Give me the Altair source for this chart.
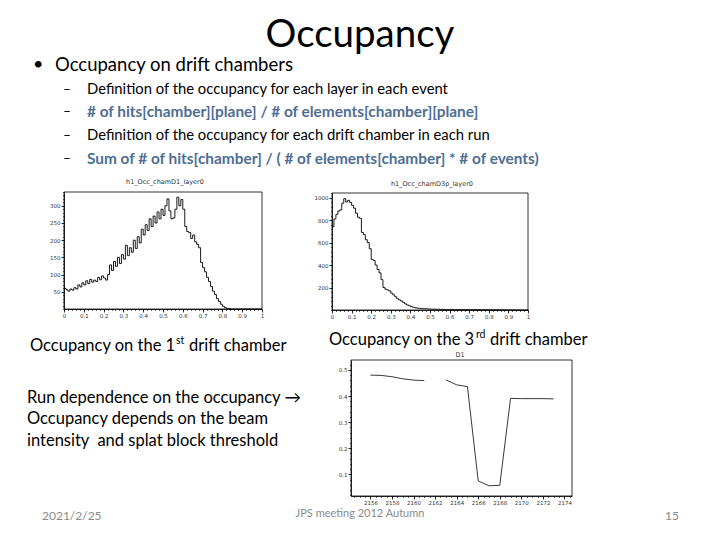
import altair as alt
import pandas as pd

# ---------------- data ----------------
# histogram 1 : h1_Occ_chamD1_layer0 (100 bins on [0,1])
h1_counts = [60, 56, 52, 58, 55, 62, 58, 70, 64, 76,
             70, 82, 74, 86, 78, 84, 80, 92, 85, 96,
             90, 84, 100, 128, 112, 138, 124, 150, 132, 158,
             145, 185, 155, 178, 165, 200, 176, 210, 192, 232,
             215, 245, 228, 262, 240, 270, 250, 282, 262, 290,
             272, 300, 320, 285, 262, 265, 290, 325, 300, 318,
             290, 240, 225, 222, 205, 215, 195, 188, 178, 135,
             120, 108, 92, 80, 65, 52, 42, 30, 22, 14,
             8, 4, 2, 1, 0, 0, 0, 0, 0, 0,
             0, 0, 0, 0, 0, 0, 0, 0, 0, 0]
# histogram 2 : h1_Occ_chamD3p_layer0 (100 bins on [0,1])
h2_counts = [740, 810, 850, 880, 890, 950, 990, 960, 975, 955,
             930, 905, 860, 825, 815, 690, 670, 625, 600, 545,
             450, 440, 400, 360, 330, 270, 200, 185, 178, 170,
             150, 135, 118, 100, 90, 80, 68, 55, 45, 38,
             30, 25, 20, 17, 15, 14, 12, 11, 10, 9,
             8, 7, 8, 6, 7, 5, 6, 5, 4, 5,
             4, 5, 3, 4, 4, 3, 4, 3, 3, 4,
             3, 2, 3, 3, 2, 3, 2, 2, 3, 2,
             2, 2, 1, 2, 2, 1, 2, 1, 1, 1,
             1, 0, 1, 0, 0, 0, 0, 0, 0, 0]
# run dependence (D1)
runs_a = [2156, 2157, 2158, 2159, 2160, 2161]
occ_a = [0.480, 0.479, 0.474, 0.466, 0.461, 0.459]
runs_b = [2163, 2164, 2165, 2166, 2167, 2168, 2169, 2170, 2171, 2172, 2173]
occ_b = [0.462, 0.443, 0.436, 0.075, 0.056, 0.058, 0.391, 0.390, 0.390, 0.390, 0.389]

# tick labels
occ_ticks = [0, 0.1, 0.2, 0.3, 0.4, 0.5, 0.6, 0.7, 0.8, 0.9, 1]
h1_yticks = [50, 100, 150, 200, 250, 300]
h2_yticks = [200, 400, 600, 800, 1000]
run_ticks = [2156, 2158, 2160, 2162, 2164, 2166, 2168, 2170, 2172, 2174]
d1_yticks = [0.1, 0.2, 0.3, 0.4, 0.5]

# slide texts
title_text = "Occupancy"
bullet_text = "Occupancy on drift chambers"
sub_texts = ["Definition of the occupancy for each layer in each event",
             "# of hits[chamber][plane] / # of elements[chamber][plane]",
             "Definition of the occupancy for each drift chamber in each run",
             "Sum of # of hits[chamber] / ( # of elements[chamber] * # of events)"]
cap1 = ["Occupancy on the 1", "st", "drift chamber"]
cap3 = ["Occupancy on the 3", "rd", "drift chamber"]
run_texts = ["Run dependence on the occupancy \u2192",
             "Occupancy depends on the beam",
             "intensity\u00a0 and splat block threshold"]
footer = ["2021/2/25", "JPS meeting 2012 Autumn", "15"]
plot_titles = ["h1_Occ_chamD1_layer0", "h1_Occ_chamD3p_layer0", "D1"]

# ---------------- helpers ----------------
FONT = "Lato"
H = 524  # chart height (page minus margins)


def txt(s, X, Y, size, color="black", align="left", baseline="middle",
        font=FONT, weight="normal"):
    return alt.Chart(pd.DataFrame({"t": [s]})).mark_text(
        align=align, baseline=baseline, fontSize=size, font=font, color=color,
        fontWeight=weight
    ).encode(x=alt.value(X - 8), y=alt.value(Y - 8), text="t:N")


def major_axis(orient, offset, values, fmt):
    return alt.Axis(orient=orient, offset=offset, values=values, format=fmt,
                    grid=False, title=None, tickSize=3, tickWidth=0.8,
                    tickColor="black", domainColor="black", domainWidth=0.8,
                    labelFontSize=5.5, labelFont="DejaVu Sans", labelColor="#333",
                    labelFlush=False, labelOverlap=False, labelPadding=1)


def minor_axis(orient, offset, values):
    return alt.Axis(orient=orient, offset=offset, values=values, grid=False,
                    title=None, labels=False, domain=False, tickSize=1.5,
                    tickWidth=0.6, tickColor="black")


def hist_layers(counts, xr, yr, ymax, yticks, xminor, yminor):
    edges = [i / len(counts) for i in range(len(counts))] + [1.0]
    vals = counts + [counts[-1]]
    df = pd.DataFrame({"x": edges, "y": vals})
    xs = alt.Scale(domain=[0, 1], range=xr, nice=False, zero=False)
    ys = alt.Scale(domain=[0, ymax], range=yr, nice=False, zero=False)
    xoff = -(xr[0])
    yoff = yr[0] - H
    line = alt.Chart(df).mark_line(interpolate="step-after", color="black",
                                   strokeWidth=0.9).encode(
        x=alt.X("x:Q", scale=xs, axis=major_axis("bottom", yoff, occ_ticks, "~g")),
        y=alt.Y("y:Q", scale=ys, axis=major_axis("left", xoff, yticks, "d")))
    frame = alt.Chart(pd.DataFrame({"a": [0], "b": [1], "c": [0], "d": [ymax]})).mark_rect(
        fill=None, stroke="black", strokeWidth=0.8).encode(
        x=alt.X("a:Q", scale=xs, axis=minor_axis("bottom", yoff, xminor)),
        x2="b:Q",
        y=alt.Y("c:Q", scale=ys, axis=minor_axis("left", xoff, yminor)),
        y2="d:Q")
    return [line, frame]


layers = []

# ---------------- slide text ----------------
layers.append(txt(title_text, 360, 47, 38.5, align="center", baseline="alphabetic"))
layers.append(txt("\u2022", 33, 65, 18))
layers.append(txt(bullet_text, 55, 65, 18.5))
sub_y = [90, 112, 136, 159]
sub_col = ["black", "#4f6e94", "black", "#4f6e94"]
sub_w = ["normal", "bold", "normal", "bold"]
sub_s = [14.8, 15.4, 14.8, 15.4]
for s, yy, c, w, fs in zip(sub_texts, sub_y, sub_col, sub_w, sub_s):
    layers.append(txt("\u2013", 63, yy, 14))
    layers.append(txt(s, 87, yy, fs, color=c, weight=w))

layers.append(txt(cap1[0], 30, 346, 16.5))
layers.append(txt(cap1[1], 176, 341, 10.5))
layers.append(txt(cap1[2], 189, 346, 16.5))
layers.append(txt(cap3[0], 329, 340, 16.5))
layers.append(txt(cap3[1], 476, 335, 10.5))
layers.append(txt(cap3[2], 490, 340, 16.5))

for s, yy in zip(run_texts, [398, 419, 441]):
    layers.append(txt(s, 27, yy, 16.5))

layers.append(txt(footer[0], 42, 516, 12, color="#8a8a8a"))
layers.append(txt(footer[1], 360, 514, 11, color="#8a8a8a", align="center"))
layers.append(txt(footer[2], 679, 516, 12, color="#8a8a8a", align="right"))

layers.append(txt(plot_titles[0], 165, 182, 6.5, color="#333", align="center", font="DejaVu Sans"))
layers.append(txt(plot_titles[1], 432, 184, 6.5, color="#333", align="center", font="DejaVu Sans"))
layers.append(txt(plot_titles[2], 460, 355, 6.5, color="#333", align="center", font="DejaVu Sans"))

# ---------------- plot 1 ----------------
minor_x = [i / 50 for i in range(51)]
layers += hist_layers(h1_counts, [56, 254], [301, 184], 340, h1_yticks,
                      minor_x, [i * 10 for i in range(35)])
# ---------------- plot 2 ----------------
layers += hist_layers(h2_counts, [324, 520], [302, 185], 1040, h2_yticks,
                      minor_x, [i * 40 for i in range(27)])

# ---------------- plot 3 ----------------
df3 = pd.DataFrame({
    "run": runs_a + runs_b,
    "occ": occ_a + occ_b,
    "seg": ["a"] * len(runs_a) + ["b"] * len(runs_b)})
xs3 = alt.Scale(domain=[2154.2, 2174.7], range=[343, 564], nice=False, zero=False)
ys3 = alt.Scale(domain=[0.017, 0.538], range=[488, 352], nice=False, zero=False)
line3 = alt.Chart(df3).mark_line(color="#222", strokeWidth=0.9).encode(
    x=alt.X("run:Q", scale=xs3, axis=major_axis("bottom", 488 - H, run_ticks, "d")),
    y=alt.Y("occ:Q", scale=ys3, axis=major_axis("left", -343, d1_yticks, ".1f")),
    detail="seg:N")
frame3 = alt.Chart(pd.DataFrame({"a": [2154.2], "b": [2174.7], "c": [0.017], "d": [0.538]})).mark_rect(
    fill=None, stroke="black", strokeWidth=0.8).encode(
    x=alt.X("a:Q", scale=xs3, axis=minor_axis("bottom", 488 - H, [2154.5 + i * 0.5 for i in range(41)])),
    x2="b:Q",
    y=alt.Y("c:Q", scale=ys3, axis=minor_axis("left", -343, [0.02 + i * 0.02 for i in range(26)])),
    y2="d:Q")
layers += [line3, frame3]

chart = alt.layer(*layers).resolve_scale(x="independent", y="independent").properties(
    width=704, height=524, padding=0, background="white",
    autosize=alt.AutoSizeParams(type="none")
).configure_view(stroke=None)

chart.save("out.html", embed_options={"renderer": "svg", "actions": False})
